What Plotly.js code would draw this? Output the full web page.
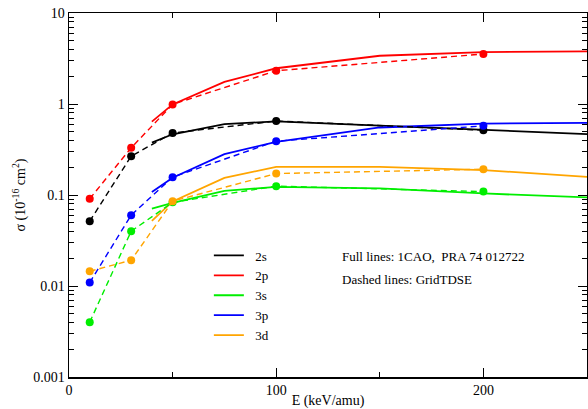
<!DOCTYPE html>
<html>
<head>
<meta charset="utf-8">
<script src="https://cdn.plot.ly/plotly-3.0.1.min.js"></script>
<style>html,body{margin:0;padding:0;background:#fff;}#chart{width:588px;height:409px;}</style>
</head>
<body>
<div id="chart"></div>
<script>
// GridTDSE (dashed, with markers)
const gridE = [10, 30, 50, 100, 200];
const grid2s = [0.0515, 0.267, 0.48, 0.65, 0.516];
const grid2p = [0.091, 0.33, 0.99, 2.32, 3.54];
const grid3s = [0.0040, 0.040, 0.083, 0.125, 0.109];
const grid3p = [0.0109, 0.060, 0.157, 0.39, 0.575];
const grid3d = [0.0145, 0.0192, 0.0855, 0.172, 0.192];

// 1CAO (full lines)
const caoE = [40, 50, 75, 100, 150, 200, 250];
const cao2s = [0.377, 0.465, 0.60, 0.645, 0.578, 0.52, 0.467];
const cao2p = [0.64, 0.99, 1.75, 2.47, 3.39, 3.72, 3.78];
const cao3s = [0.071, 0.082, 0.111, 0.123, 0.118, 0.104, 0.094];
const cao3p = [0.108, 0.155, 0.281, 0.384, 0.552, 0.61, 0.62];
const cao3d = [0.052, 0.085, 0.154, 0.204, 0.204, 0.188, 0.158];

const names = ['2s', '2p', '3s', '3p', '3d'];
const colors = ['#000000', '#ff0000', '#00ee00', '#0000ff', '#ffa500'];
const gridSets = [grid2s, grid2p, grid3s, grid3p, grid3d];
const caoSets = [cao2s, cao2p, cao3s, cao3p, cao3d];

const yTickVals = [0.001, 0.01, 0.1, 1, 10];
const yTickText = ['0.001', '0.01', '0.1', '1', '10'];
const xTickVals = [0, 100, 200];
const xTickText = ['0', '100', '200'];

const traces = [];
names.forEach((n, i) => {
  traces.push({
    x: caoE, y: caoSets[i], type: 'scatter', mode: 'lines', name: '\u00a0\u00a0' + n,
    line: {color: colors[i], width: 1.8}, showlegend: true
  });
});
names.forEach((n, i) => {
  traces.push({
    x: gridE, y: gridSets[i], type: 'scatter', mode: 'lines+markers', name: n + ' GridTDSE',
    line: {color: colors[i], width: 1.4, dash: '6px,4px'},
    marker: {color: colors[i], size: 8}, showlegend: false
  });
});

const yMinor = [];
for (let d = -3; d < 1; d++) for (let k = 2; k <= 9; k++) yMinor.push(k * Math.pow(10, d));

const FAM = '"Liberation Serif", "Times New Roman", serif';
const mkFont = (s) => ({family: FAM, size: s, color: '#000000'});

const layout = {
  width: 588, height: 409,
  margin: {l: 69, r: 1, t: 13, b: 32},
  paper_bgcolor: '#fff', plot_bgcolor: '#fff',
  font: mkFont(14),
  showlegend: true,
  legend: {
    x: 0.27, y: 0.375, xanchor: 'left', yanchor: 'top',
    bgcolor: 'rgba(0,0,0,0)', borderwidth: 0,
    font: mkFont(13),
    itemwidth: 30
  },
  xaxis: {
    type: 'linear', range: [0, 250],
    tickmode: 'array', tickvals: xTickVals, ticktext: xTickText,
    ticks: 'inside', ticklen: 9, tickwidth: 1, tickcolor: '#000',
    minor: {tickmode: 'linear', tick0: 0, dtick: 50, ticks: 'inside', ticklen: 5, tickwidth: 1, tickcolor: '#000', showgrid: false},
    showline: true, linecolor: '#000', linewidth: 1.5, mirror: 'ticks',
    showgrid: false, zeroline: false,
    tickfont: mkFont(14),
    title: {text: 'E (keV/amu)', font: mkFont(14), standoff: 3}
  },
  yaxis: {
    type: 'log', range: [-3, 1],
    tickmode: 'array', tickvals: yTickVals, ticktext: yTickText,
    ticks: 'inside', ticklen: 9, tickwidth: 1, tickcolor: '#000',
    minor: {tickmode: 'array', tickvals: yMinor, ticks: 'inside', ticklen: 5, tickwidth: 1, tickcolor: '#000', showgrid: false},
    showline: true, linecolor: '#000', linewidth: 1.5, mirror: 'ticks',
    showgrid: false, zeroline: false,
    tickfont: mkFont(14),
    title: {text: 'σ (10<sup>-16</sup> cm<sup>2</sup>)', font: mkFont(14), standoff: 4}
  },
  annotations: [
    {xref: 'paper', yref: 'paper', x: 0.523, y: 0.332, xanchor: 'left', yanchor: 'middle',
     text: 'Full lines: 1CAO,\u00a0 PRA 74 012722', showarrow: false,
     font: mkFont(13)},
    {xref: 'paper', yref: 'paper', x: 0.523, y: 0.268, xanchor: 'left', yanchor: 'middle',
     text: 'Dashed lines: GridTDSE', showarrow: false,
     font: mkFont(13)}
  ]
};

Plotly.newPlot('chart', traces, layout, {displayModeBar: false, staticPlot: true});
</script>
</body>
</html>
